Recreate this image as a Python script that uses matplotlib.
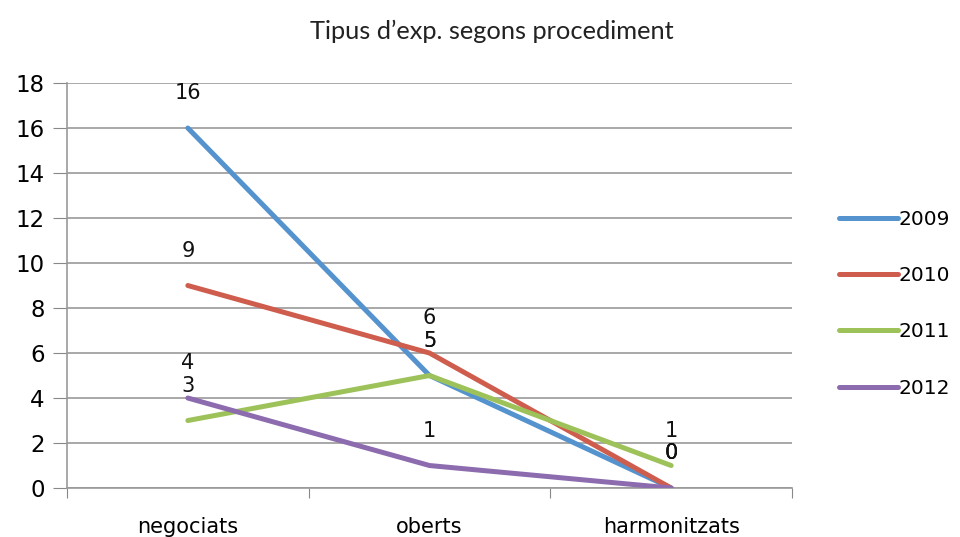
import matplotlib.pyplot as plt

categories = ['negociats', 'oberts', 'harmonitzats']
years = ['2009', '2010', '2011', '2012']
values_2009 = [16, 5, 0]
values_2010 = [9, 6, 0]
values_2011 = [3, 5, 1]
values_2012 = [4, 1, 0]
series = [values_2009, values_2010, values_2011, values_2012]
colors = ['#5593CE', '#CF5D4E', '#9DC25A', '#8C6CAE']

fig = plt.figure(figsize=(9.6, 5.37), dpi=100)
ax = fig.add_axes([0.0698, 0.0912, 0.7552, 0.7542])

x = [0.5, 1.5, 2.5]
for vals, year, c in zip(series, years, colors):
    ax.plot(x, vals, color=c, linewidth=3.6, solid_capstyle='round', label=year, zorder=3)
    for xi, v in zip(x, vals):
        ax.annotate(str(v), (xi, v), xytext=(0, 25), textcoords='offset points',
                    ha='center', va='center', fontsize=15, color='#111111')

ax.set_xlim(0, 3)
ax.set_ylim(0, 18)
ax.set_yticks(range(0, 19, 2))
ax.set_xticks([0, 1, 2, 3])
ax.set_xticks(x, minor=True)
ax.set_xticklabels([])
ax.set_xticklabels(categories, minor=True)
ax.tick_params(axis='x', which='minor', length=0, labelsize=15, pad=21)
ax.tick_params(axis='x', which='major', length=7, color='#888888')
ax.tick_params(axis='y', length=10, color='#888888', labelsize=16.5, pad=6)
ax.grid(axis='y', color='#999999', linewidth=1.2)
ax.set_axisbelow(True)
for s in ['top', 'right']:
    ax.spines[s].set_visible(False)
ax.spines['left'].set_color('#999999')
ax.spines['bottom'].set_color('#999999')
ax.spines['left'].set_linewidth(1.2)
ax.spines['bottom'].set_linewidth(1.2)

leg = ax.legend(loc='center left', bbox_to_anchor=(1.04, 0.455), frameon=False,
                fontsize=14.5, handlelength=2.9, handletextpad=0.05, labelspacing=1.85)

fig.text(0.512, 0.942, 'Tipus d\u2019exp. segons procediment', ha='center', va='center',
         fontsize=18.3, family='Lato', color='#222222')

fig.savefig('out.png', dpi=100)
